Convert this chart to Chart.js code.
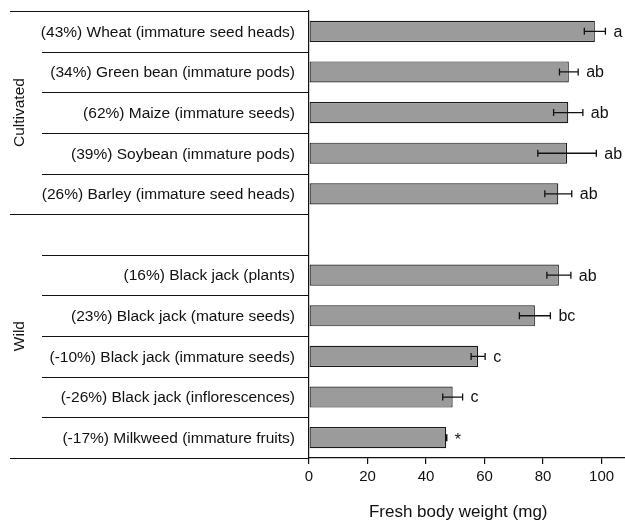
<!DOCTYPE html>
<html>
<head>
<meta charset="utf-8">
<script src="https://cdn.jsdelivr.net/npm/chart.js@4.4.1/dist/chart.umd.min.js"></script>
<style>
  html, body { margin: 0; padding: 0; background: #fff; }
  #wrap { width: 625px; height: 522px; position: relative; }
</style>
</head>
<body>
<div id="wrap"><canvas id="chart"></canvas></div>
<script>
// data
const categories = [
  "(43%) Wheat (immature seed heads)",
  "(34%) Green bean (immature pods)",
  "(62%) Maize (immature seeds)",
  "(39%) Soybean (immature pods)",
  "(26%) Barley (immature seed heads)",
  "",
  "(16%) Black jack (plants)",
  "(23%) Black jack (mature seeds)",
  "(-10%) Black jack (immature seeds)",
  "(-26%) Black jack (inflorescences)",
  "(-17%) Milkweed (immature fruits)"
];
const weights = [97.7, 88.8, 88.6, 88.2, 85.2, null, 85.4, 77.2, 57.8, 49.1, 46.9];
const errors = [3.6, 3.2, 5.0, 10.0, 4.6, null, 4.1, 5.3, 2.4, 3.4, 0.2];
const letters = ["a", "ab", "ab", "ab", "ab", "", "ab", "bc", "c", "c", "*"];
const groups = [
  { name: "Cultivated", from: 0, to: 4 },
  { name: "Wild", from: 5, to: 10 }
];
const xTicks = [0, 20, 40, 60, 80, 100];
const xTitle = "Fresh body weight (mg)";

const FONT = '"Liberation Sans", Arial, sans-serif';
const INK = '#111';

// left label panel, error bars, letters, axis title
const extras = {
  id: 'extras',
  afterDatasetsDraw(chart) {
    const { ctx, chartArea, scales: { x, y } } = chart;
    const rowH = y.getPixelForValue(1) - y.getPixelForValue(0);
    const edge = i => y.getPixelForValue(i) - rowH / 2;
    ctx.save();

    // error bars
    ctx.strokeStyle = INK;
    ctx.lineWidth = 1.3;
    weights.forEach((v, i) => {
      if (v == null) return;
      const py = y.getPixelForValue(i);
      const x0 = x.getPixelForValue(v - errors[i]);
      const x1 = x.getPixelForValue(v + errors[i]);
      ctx.beginPath();
      ctx.moveTo(x0, py); ctx.lineTo(x1, py);
      ctx.moveTo(x0, py - 3.5); ctx.lineTo(x0, py + 3.5);
      ctx.moveTo(x1, py - 3.5); ctx.lineTo(x1, py + 3.5);
      ctx.stroke();
    });

    // significance letters
    ctx.fillStyle = INK;
    ctx.font = '16px ' + FONT;
    ctx.textAlign = 'left';
    ctx.textBaseline = 'middle';
    letters.forEach((t, i) => {
      if (!t) return;
      const px = x.getPixelForValue(weights[i] + errors[i]) + 8;
      ctx.fillText(t, px, y.getPixelForValue(i) + (t === '*' ? 3 : 1));
    });

    // category labels
    ctx.font = '15.5px ' + FONT;
    ctx.textAlign = 'right';
    categories.forEach((c, i) => {
      if (c) ctx.fillText(c, chartArea.left - 14, y.getPixelForValue(i) + 1);
    });

    // separator lines
    ctx.lineWidth = 1.2;
    for (let i = 0; i <= categories.length; i++) {
      const py = Math.round(edge(i)) + 0.5;
      const groupEdge = groups.some(g => g.from === i || g.to + 1 === i);
      ctx.beginPath();
      ctx.moveTo(groupEdge ? 10 : 42, py);
      ctx.lineTo(chartArea.left, py);
      ctx.stroke();
    }

    // group names
    ctx.textAlign = 'center';
    groups.forEach(g => {
      const cy = (edge(g.from) + edge(g.to + 1)) / 2;
      ctx.save();
      ctx.translate(20, cy);
      ctx.rotate(-Math.PI / 2);
      ctx.fillText(g.name, 0, 0);
      ctx.restore();
    });

    // x axis title
    ctx.font = '17px ' + FONT;
    ctx.fillText(xTitle, x.getPixelForValue(51), 512);
    ctx.restore();
  }
};

new Chart(document.getElementById('chart').getContext('2d'), {
  type: 'bar',
  data: {
    labels: categories,
    datasets: [{
      data: weights,
      backgroundColor: '#9b9b9b',
      borderColor: '#1a1a1a',
      borderWidth: 1.2,
      borderSkipped: false,
      categoryPercentage: 1,
      barPercentage: 0.52
    }]
  },
  options: {
    indexAxis: 'y',
    responsive: true,
    maintainAspectRatio: false,
    animation: false,
    layout: { padding: { top: 11, right: 0, left: 0, bottom: 0 } },
    plugins: { legend: { display: false }, tooltip: { enabled: false } },
    scales: {
      x: {
        min: 0,
        max: 108,
        afterBuildTicks: s => { s.ticks = xTicks.map(v => ({ value: v })); },
        afterFit: s => { s.height = 522 - 11 - 447; },
        grid: { display: true, drawOnChartArea: false, drawTicks: true, tickLength: 6, color: INK, lineWidth: 1.2 },
        border: { display: true, color: INK, width: 1.2 },
        ticks: { color: INK, padding: 4, font: { family: FONT, size: 15 } }
      },
      y: {
        afterFit: s => { s.width = 309; },
        grid: { display: false },
        border: { display: true, color: INK, width: 1.2 },
        ticks: { display: false }
      }
    }
  },
  plugins: [extras]
});
</script>
</body>
</html>
